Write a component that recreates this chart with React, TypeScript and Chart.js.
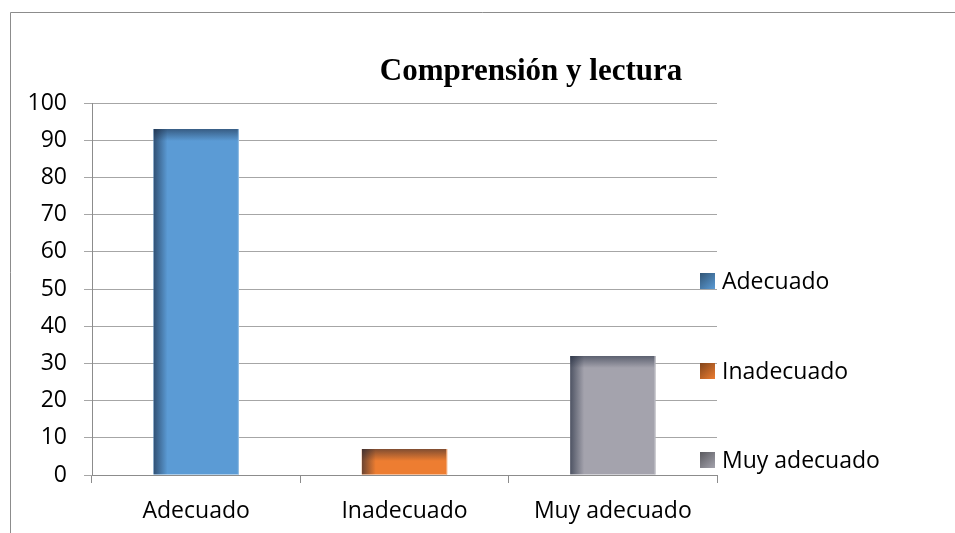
import React, { useEffect, useRef } from "react";
import { Chart, registerables } from "chart.js";

Chart.register(...registerables);

const titleText = "Comprensión y lectura";
const categories = ["Adecuado", "Inadecuado", "Muy adecuado"];
const values = [93, 7, 32];
const barColors = ["#5B9BD5", "#ED7D31", "#A4A3AD"];
const edgeColors = ["#9DC3E6", "#F4B183", "#C9C9CF"];
const yTicks = [0, 10, 20, 30, 40, 50, 60, 70, 80, 90, 100];

const FONT = "'Open Sans', 'Liberation Sans', sans-serif";
const FONT_SIZE = 23;

const framePlugin = {
  id: "frame",
  beforeDraw(chart: any) {
    const ctx = chart.ctx;
    ctx.save();
    ctx.fillStyle = "#ffffff";
    ctx.fillRect(0, 0, chart.width, chart.height);
    ctx.strokeStyle = "#8c8c8c";
    ctx.lineWidth = 1;
    ctx.beginPath();
    ctx.moveTo(10.5, chart.height);
    ctx.lineTo(10.5, 12.5);
    ctx.lineTo(chart.width, 12.5);
    ctx.stroke();
    ctx.restore();
  },
};

const titlePlugin = {
  id: "customTitle",
  afterDraw(chart: any) {
    const ctx = chart.ctx;
    ctx.save();
    ctx.font = "bold 31px 'Liberation Serif', 'Times New Roman', serif";
    ctx.fillStyle = "#000000";
    ctx.textAlign = "center";
    ctx.textBaseline = "alphabetic";
    ctx.fillText(titleText, 531, 80);
    ctx.restore();
  },
};

const shadePlugin = {
  id: "barShade",
  afterDatasetsDraw(chart: any) {
    const ctx = chart.ctx;
    const meta = chart.getDatasetMeta(0);
    meta.data.forEach((bar: any, i: number) => {
      const left = bar.x - bar.width / 2;
      const right = bar.x + bar.width / 2;
      const top = bar.y;
      const bottom = bar.base;
      const h = bottom - top;
      ctx.save();
      ctx.beginPath();
      ctx.rect(left, top, right - left, h);
      ctx.clip();
      const lg = ctx.createLinearGradient(left, 0, left + 14, 0);
      lg.addColorStop(0, "rgba(20,30,50,0.6)");
      lg.addColorStop(1, "rgba(20,30,50,0)");
      ctx.fillStyle = lg;
      ctx.fillRect(left, top, 14, h);
      const tg = ctx.createLinearGradient(0, top, 0, top + Math.min(12, h));
      tg.addColorStop(0, "rgba(20,30,50,0.5)");
      tg.addColorStop(1, "rgba(20,30,50,0)");
      ctx.fillStyle = tg;
      ctx.fillRect(left, top, right - left, Math.min(12, h));
      ctx.strokeStyle = edgeColors[i];
      ctx.lineWidth = 1;
      ctx.beginPath();
      ctx.moveTo(right - 0.5, top);
      ctx.lineTo(right - 0.5, bottom);
      ctx.stroke();
      ctx.restore();
    });
  },
};

function shadeDark(hex: string) {
  const n = parseInt(hex.slice(1), 16);
  const r = Math.round(((n >> 16) & 255) * 0.55);
  const g = Math.round(((n >> 8) & 255) * 0.55);
  const b = Math.round((n & 255) * 0.55);
  return `rgb(${r},${g},${b})`;
}

const legendPlugin = {
  id: "customLegend",
  afterDraw(chart: any) {
    const ctx = chart.ctx;
    const x0 = chart.chartArea.right - 17;
    const ys = [281, 371, 460];
    ctx.save();
    ctx.font = FONT_SIZE + "px " + FONT;
    ctx.textBaseline = "middle";
    ctx.textAlign = "left";
    categories.forEach((label, i) => {
      const cy = ys[i];
      const g = ctx.createLinearGradient(x0, cy - 8, x0 + 15, cy + 8);
      g.addColorStop(0, shadeDark(barColors[i]));
      g.addColorStop(1, barColors[i]);
      ctx.fillStyle = g;
      ctx.fillRect(x0, cy - 8, 15, 16);
      ctx.fillStyle = "#000000";
      ctx.fillText(label, x0 + 22, cy + 1);
    });
    ctx.restore();
  },
};

export default function App() {
  const canvasRef = useRef<HTMLCanvasElement | null>(null);

  useEffect(() => {
    if (!canvasRef.current) return;
    const chart = new Chart(canvasRef.current, {
      type: "bar",
      data: {
        labels: categories,
        datasets: [
          {
            data: values,
            backgroundColor: barColors,
            borderWidth: 0,
            categoryPercentage: 1,
            barPercentage: 0.41,
          },
        ],
      },
      options: {
        animation: false,
        responsive: false,
        maintainAspectRatio: false,
        layout: { padding: { left: 0, top: 103, right: 238, bottom: 0 } },
        plugins: {
          legend: { display: false },
          title: { display: false },
          tooltip: { enabled: false },
        },
        scales: {
          x: {
            afterFit: (s: any) => {
              s.height = 58;
            },
            grid: {
              display: true,
              offset: true,
              drawOnChartArea: false,
              drawTicks: true,
              tickLength: 8,
              color: "#8c8c8c",
            },
            border: { display: true, color: "#8c8c8c" },
            ticks: {
              color: "#000000",
              font: { family: FONT, size: FONT_SIZE },
              padding: 15,
            },
          },
          y: {
            min: 0,
            max: 100,
            afterFit: (s: any) => {
              s.width = 92;
            },
            afterBuildTicks: (s: any) => {
              s.ticks = yTicks.map((v) => ({ value: v }));
            },
            grid: {
              color: "#a6a6a6",
              tickLength: 8,
              drawTicks: true,
            },
            border: { display: true, color: "#8c8c8c" },
            ticks: {
              color: "#000000",
              font: { family: FONT, size: FONT_SIZE },
              padding: 17,
            },
          },
        },
      },
      plugins: [framePlugin, shadePlugin, titlePlugin, legendPlugin],
    });
    return () => chart.destroy();
  }, []);

  return (
    <div style={{ position: "absolute", left: 0, top: 0, width: 955, height: 533 }}>
      <canvas ref={canvasRef} width={955} height={533} style={{ width: 955, height: 533 }} />
    </div>
  );
}
